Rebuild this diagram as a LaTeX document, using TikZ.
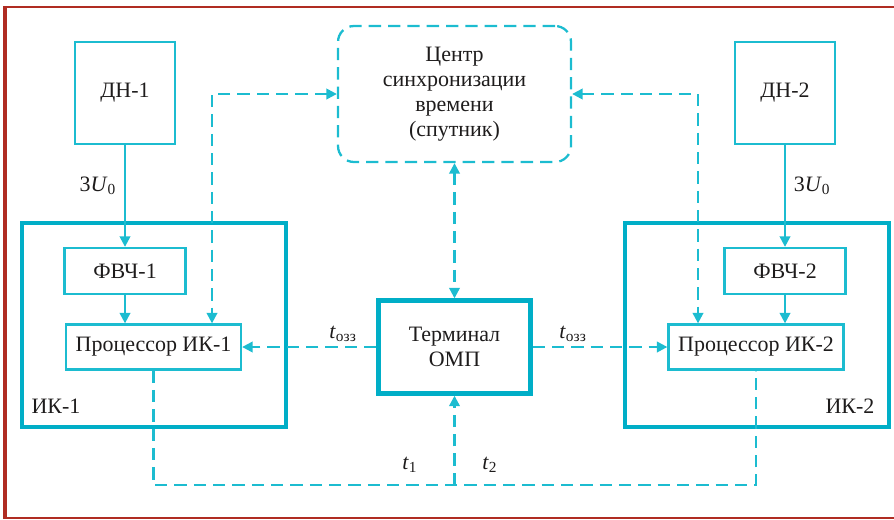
\documentclass[tikz,border=0pt]{standalone}
\usepackage{fontspec}
\setmainfont{Liberation Serif}
\usetikzlibrary{arrows.meta}
\definecolor{blocklc}{RGB}{28,188,208}
\definecolor{ikblc}{RGB}{0,174,199}
\definecolor{framelc}{RGB}{176,44,34}
\definecolor{textc}{RGB}{30,28,28}
\begin{document}
\begin{tikzpicture}[font=\fontsize{12.5}{14.2}\selectfont,text=textc,
	blk/.style={draw=blocklc,line width=1.3pt,inner sep=0pt,align=center},
	thickblk/.style={draw=ikblc,line width=2.5pt,inner sep=0pt,align=center},
	sline/.style={draw=blocklc,line width=1.3pt,-{Triangle[length=6pt,width=6pt]}},
	dline/.style={draw=blocklc,line width=1.3pt,dash pattern=on 7pt off 4pt}]
	\useasboundingbox (0,0) rectangle (17.88,10.38);
	\draw[framelc,line width=1.1pt] (17.88,10.24) -- (0.1,10.24);
	\draw[framelc,line width=1.1pt] (0.1,0.02) -- (17.88,0.02);
	\draw[framelc,line width=1.8pt] (0.1,10.26) -- (0.1,0.0);

	\node[thickblk,minimum width=5.28cm,minimum height=4.08cm] (ik1) at (3.08,3.88) {};
	\node[thickblk,minimum width=5.28cm,minimum height=4.08cm] (ik2) at (15.14,3.88) {};
	\node (ik1lab) at (1.12,2.26) {ИК-1};
	\node (ik2lab) at (17.0,2.26) {ИК-2};

	\node[blk,minimum width=2cm,minimum height=2.04cm] (dn1) at (2.5,8.52) {ДН-1};
	\node[blk,minimum width=2cm,minimum height=2.04cm] (dn2) at (15.7,8.52) {ДН-2};
	\node[blk,minimum width=2.42cm,minimum height=0.92cm] (fvch1) at (2.5,4.96) {ФВЧ-1};
	\node[blk,minimum width=2.42cm,minimum height=0.92cm] (fvch2) at (15.7,4.96) {ФВЧ-2};
	\node[blk,minimum width=3.5cm,minimum height=0.9cm] (proc1) at (3.07,3.44) {Процессор ИК-1};
	\node[blk,minimum width=3.5cm,minimum height=0.9cm] (proc2) at (15.12,3.44) {Процессор ИК-2};
	\node[blk,dash pattern=on 7pt off 4pt,rounded corners=0.32cm,minimum width=4.66cm,minimum height=2.72cm] (centr) at (9.09,8.5) {Центр\\синхронизации\\времени\\(спутник)};
	\node[thickblk,minimum width=3.04cm,minimum height=1.86cm] (term) at (9.09,3.44) {Терминал\\ОМП};

	\draw[sline] (dn1) -- (fvch1) node[pos=0.4,left=1pt] {3\textit{U}\textsubscript{0}};
	\draw[sline] (dn2) -- (fvch2) node[pos=0.4,right=1pt] {3\textit{U}\textsubscript{0}};
	\draw[sline] (fvch1) -- (fvch1 |- proc1.north);
	\draw[sline] (fvch2) -- (fvch2 |- proc2.north);

	\draw[dline,{Triangle[length=6pt,width=6pt]}-{Triangle[length=6pt,width=6pt]}] (centr.west) -| ([xshift=1.17cm]proc1.north);
	\draw[dline,{Triangle[length=6pt,width=6pt]}-{Triangle[length=6pt,width=6pt]}] (centr.east) -| ([xshift=-1.16cm]proc2.north);
	\draw[dline,{Triangle[length=6pt,width=6pt]}-{Triangle[length=6pt,width=6pt]}] (centr) -- (term);
	\draw[dline,-{Triangle[length=6pt,width=6pt]}] (term) -- (proc1);
	\draw[dline,-{Triangle[length=6pt,width=6pt]}] (term) -- (proc2);
	\node (tozz1) at (6.86,3.7) {\textit{t}\textsubscript{озз}};
	\node (tozz2) at (11.46,3.7) {\textit{t}\textsubscript{озз}};

	\coordinate (bus) at (9.09,0.68);
	\draw[dline] (proc1.south) |- (bus) -| (proc2.south);
	\draw[dline,-{Triangle[length=6pt,width=6pt]}] (bus) -- (term);
	\node (t1) at (8.2,1.08) {\textit{t}\textsubscript{1}};
	\node (t2) at (9.8,1.08) {\textit{t}\textsubscript{2}};
\end{tikzpicture}
\end{document}
